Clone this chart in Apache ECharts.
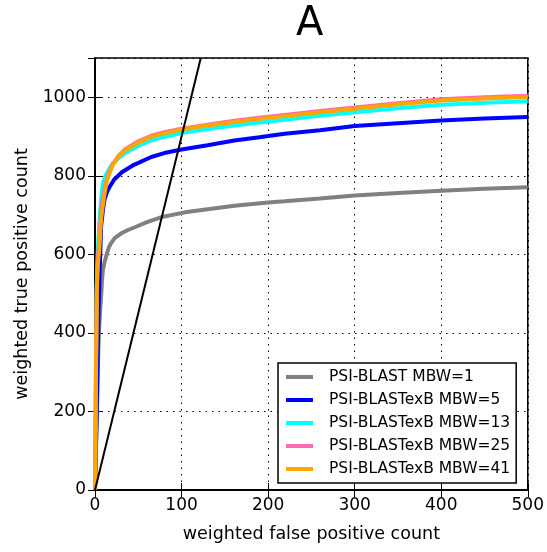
<!DOCTYPE html>
<html>
<head>
<meta charset="utf-8">
<script src="https://cdn.jsdelivr.net/npm/echarts@6/dist/echarts.min.js"></script>
<style>html,body{margin:0;padding:0;background:#fff;}#c{width:547px;height:552px;}</style>
</head>
<body>
<div id="c"></div>
<script>
var xTicks = [0, 100, 200, 300, 400, 500];
var yTicks = [0, 200, 400, 600, 800, 1000];
var seriesNames = ['PSI-BLAST MBW=1', 'PSI-BLASTexB MBW=5', 'PSI-BLASTexB MBW=13', 'PSI-BLASTexB MBW=25', 'PSI-BLASTexB MBW=41'];

var fpGray = [0, 1, 2, 3, 3.8, 4.6, 6, 7, 8, 9, 11, 13.5, 16, 19, 23, 30, 38, 46, 60, 77, 104, 130, 161, 200, 219, 260, 300, 350, 400, 450, 500];
var tpGray = [0, 80, 180, 280, 354, 405, 460, 490, 530, 559, 580, 600, 618, 630, 642, 653, 662, 669, 682, 695, 707, 715, 724, 732, 735, 742, 750, 756, 762, 767, 771];

var fpBlue = [0, 2, 4, 6, 7, 9, 11, 14, 17, 22, 31, 45, 65, 80, 100, 130, 161, 190, 219, 260, 300, 350, 400, 450, 500];
var tpBlue = [0, 200, 450, 600, 670, 710, 740, 760, 772, 790, 809, 828, 848, 858, 867, 878, 890, 898, 907, 916, 927, 934, 941, 946, 950];

var fpCyan = [0, 1, 2, 3, 5, 7, 9, 12, 15, 20, 27, 35, 50, 65, 80, 100, 130, 161, 190, 219, 260, 300, 350, 400, 450, 500];
var tpCyan = [0, 300, 520, 600, 680, 740, 780, 800, 812, 830, 845, 858, 876, 890, 899, 909, 919, 928, 936, 943, 953, 962, 972, 981, 986, 990];

var fpPink = [0, 1, 2, 3, 5, 7, 10, 13, 15, 20, 27, 35, 50, 65, 80, 100, 130, 161, 190, 219, 260, 300, 350, 400, 450, 500];
var tpPink = [0, 280, 510, 580, 640, 710, 755, 785, 800, 828, 850, 868, 888, 902, 911, 920, 930, 940, 948, 955, 965, 974, 985, 995, 1000, 1004];

var fpOrange = [0, 1, 2, 3, 5, 7, 10, 13, 15, 20, 27, 35, 50, 65, 80, 100, 130, 161, 190, 219, 260, 300, 350, 400, 450, 500];
var tpOrange = [0, 250, 500, 570, 615, 690, 740, 780, 797, 825, 848, 865, 885, 899, 908, 918, 928, 937, 945, 952, 962, 971, 982, 992, 997, 1001];

var fpDiag = [0, 122.2];
var tpDiag = [0, 1100];

function pairs(xs, ys) { return xs.map(function (x, i) { return [x, ys[i]]; }); }

var colors = ['#808080', '#0000ff', '#00ffff', '#ff69b4', '#ffa500'];
var fpAll = [fpGray, fpBlue, fpCyan, fpPink, fpOrange];
var tpAll = [tpGray, tpBlue, tpCyan, tpPink, tpOrange];

var FONT = 'DejaVu Sans';
var series = seriesNames.map(function (n, i) {
  return {
    name: n, type: 'line', data: pairs(fpAll[i], tpAll[i]),
    showSymbol: false, symbol: 'none', clip: true, animation: false,
    lineStyle: { color: colors[i], width: 4 }, itemStyle: { color: colors[i] }
  };
});
series.push({
  name: 'diag', type: 'line', data: pairs(fpDiag, tpDiag), showSymbol: false, symbol: 'none',
  clip: true, animation: false, lineStyle: { color: '#000', width: 2 }, itemStyle: { color: '#000' }
});

var chart = echarts.init(document.getElementById('c'), null, { renderer: 'canvas' });
chart.setOption({
  animation: false,
  backgroundColor: '#fff',
  textStyle: { fontFamily: FONT, color: '#000' },
  title: { text: 'A', left: 291, top: 0, textStyle: { fontFamily: FONT, fontSize: 40, fontWeight: 'normal', color: '#000' } },
  grid: { left: 95, right: 19, top: 58, bottom: 62, show: true, borderColor: '#000', borderWidth: 1.5, containLabel: false },
  legend: {
    data: seriesNames, orient: 'vertical', left: 278, top: 363,
    backgroundColor: '#fff', borderColor: '#000', borderWidth: 1.5, borderRadius: 0,
    padding: [6, 6, 6, 8], itemGap: 7, itemWidth: 27, itemHeight: 4, icon: 'rect',
    textStyle: { fontFamily: FONT, fontSize: 15.5, color: '#000', lineHeight: 16, padding: [0, 0, 0, 11] }
  },
  xAxis: [{
    type: 'value', min: 0, max: 500, interval: 100, position: 'bottom',
    name: 'weighted false positive count', nameLocation: 'middle', nameGap: 35,
    nameTextStyle: { fontFamily: FONT, fontSize: 17.5, color: '#000' },
    axisLine: { show: true, lineStyle: { color: '#000', width: 1.5 } },
    axisTick: { show: true, inside: true, length: 7, lineStyle: { color: '#000', width: 1 } },
    axisLabel: { fontFamily: FONT, fontSize: 17, color: '#000', margin: 7, formatter: function (v) { return xTicks.indexOf(v) >= 0 ? String(v) : ''; } },
    splitLine: { show: true, lineStyle: { color: '#000', width: 1, type: [1.5, 5] } }
  }, {
    type: 'value', min: 0, max: 500, interval: 100, position: 'top',
    axisLine: { show: true, lineStyle: { color: '#000', width: 1.5 } },
    axisTick: { show: true, inside: true, length: 7, lineStyle: { color: '#000', width: 1 } },
    axisLabel: { show: false }, splitLine: { show: false }
  }],
  yAxis: [{
    type: 'value', min: 0, max: 1100, interval: 200, position: 'left',
    name: 'weighted true positive count', nameLocation: 'middle', nameGap: 63,
    nameTextStyle: { fontFamily: FONT, fontSize: 17.5, color: '#000' },
    axisLine: { show: true, lineStyle: { color: '#000', width: 1.5 } },
    axisTick: { show: true, inside: true, length: 7, lineStyle: { color: '#000', width: 1 } },
    axisLabel: { fontFamily: FONT, fontSize: 17, color: '#000', margin: 9, showMaxLabel: false, formatter: function (v) { return yTicks.indexOf(v) >= 0 ? String(v) : ''; } },
    splitLine: { show: true, lineStyle: { color: '#000', width: 1, type: [1.5, 5] } }
  }, {
    type: 'value', min: 0, max: 1100, interval: 200, position: 'right',
    axisLine: { show: true, lineStyle: { color: '#000', width: 1.5 } },
    axisTick: { show: true, inside: true, length: 7, lineStyle: { color: '#000', width: 1 } },
    axisLabel: { show: false }, splitLine: { show: false }
  }],
  series: series
});
</script>
</body>
</html>
